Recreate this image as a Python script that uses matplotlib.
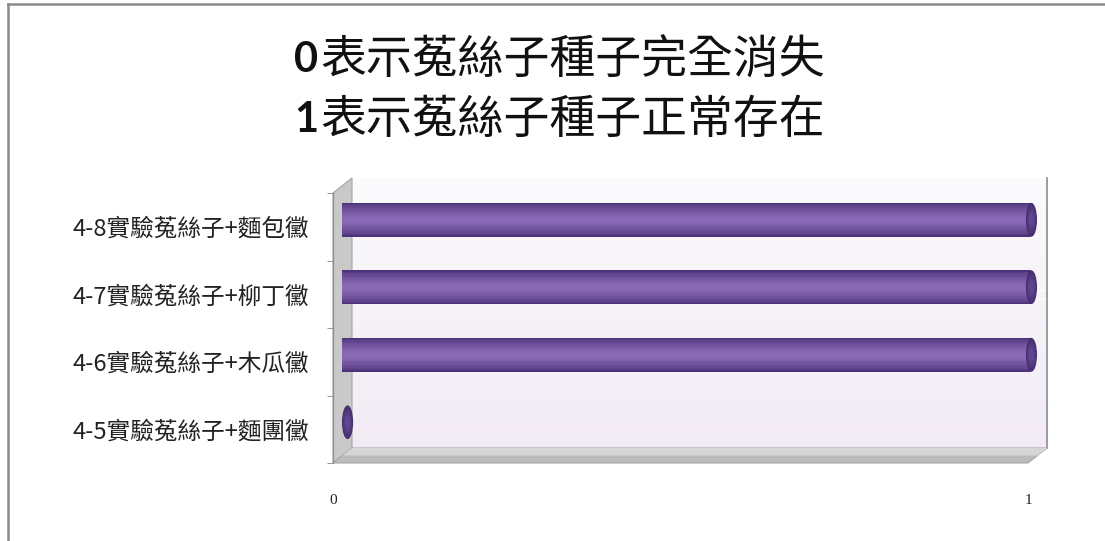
import numpy as np
import matplotlib
matplotlib.use("Agg")
import matplotlib.pyplot as plt
from matplotlib import transforms as mtransforms
from matplotlib.colors import to_rgb
from matplotlib.patches import Polygon, Rectangle, Ellipse
from matplotlib.lines import Line2D

# seed survival after mould treatment: 0 = seeds gone, 1 = seeds present
categories = ["4-5實驗菟絲子+麵團黴", "4-6實驗菟絲子+木瓜黴",
              "4-7實驗菟絲子+柳丁黴", "4-8實驗菟絲子+麵包黴"]
values = [0, 1, 1, 1]
x_ticks = [0, 1]
title_digits = ["0", "1"]
title_lines = ["表示菟絲子種子完全消失", "表示菟絲子種子正常存在"]

CJK = ["Noto Sans CJK TC", "DejaVu Sans"]
W, H, DPI = 1105, 541, 100


def fx(px):
    return px / W


def fy(py):
    return 1 - py / H


def blend(c1, c2, t):
    a, b = np.array(to_rgb(c1)), np.array(to_rgb(c2))
    return tuple(a + (b - a) * t)


fig = plt.figure(figsize=(W / DPI, H / DPI), dpi=DPI)
fig.patch.set_facecolor("white")

# chart frame (left and top edges)
fig.add_artist(Line2D([fx(8), fx(8)], [fy(4), fy(541)], color="#8a8a8a", lw=1.8))
fig.add_artist(Line2D([fx(8), fx(1105)], [fy(4), fy(4)], color="#8a8a8a", lw=1.8))

# title: bold digit followed by the CJK text
for i, (d, txt) in enumerate(zip(title_digits, title_lines)):
    yy = fy(60 + 60 * i)
    fig.text(fx(318), yy, d, ha="right", va="center", fontsize=30,
             fontweight="bold", family=["Lato", "DejaVu Sans"], color="#111")
    fig.text(fx(320), yy, txt, ha="left", va="center", fontsize=33,
             family=CJK, color="#111")

# front plane of the 3-D box
ax = fig.add_axes([fx(333), fy(463), fx(1028) - fx(333), (463 - 193) / H])
ax.patch.set_visible(False)
n = len(categories)
ypos = np.arange(n)

depth = np.array([19.0, 15.0])          # back wall offset in pixels
back = ax.transData + mtransforms.ScaledTranslation(depth[0] / DPI, depth[1] / DPI, fig.dpi_scale_trans)
mid = ax.transData + mtransforms.ScaledTranslation(9 / DPI, 7 / DPI, fig.dpi_scale_trans)
ident = mtransforms.IdentityTransform()

# back wall with a soft vertical gradient
strips = 60
edges = np.linspace(-0.5, n - 0.5, strips + 1)
for k in range(strips):
    t = k / (strips - 1)
    ax.add_patch(Rectangle((0, edges[k]), 1, edges[k + 1] - edges[k],
                           transform=back, color=blend("#f1eaf4", "#fbfafc", t),
                           lw=0, zorder=0.5, clip_on=False))
ax.add_line(Line2D([1, 1], [-0.5, n - 0.5], transform=back, color="#8c8c8c",
                   lw=1.2, zorder=0.6, clip_on=False))

# side wall and floor
corners = ax.transAxes.transform([(0, 0), (0, 1), (1, 0)])
bl, tl, br = corners
side = [bl, tl, tl + depth, bl + depth]
floor = [bl, br, br + depth, bl + depth]
ax.add_patch(Polygon(side, closed=True, transform=ident, facecolor="#c9c9c9",
                     edgecolor="#a5a5a5", lw=0.8, zorder=0.7, clip_on=False))
ax.add_patch(Polygon(floor, closed=True, transform=ident, facecolor="#bcbcbc",
                     edgecolor="#a8a8a8", lw=0.8, zorder=0.8, clip_on=False))
inner = [bl + depth * 0.5, br + depth * 0.5, br + depth, bl + depth]
ax.add_patch(Polygon(inner, closed=True, transform=ident, facecolor="#d6d6d6",
                     lw=0, zorder=0.85, clip_on=False))

# bars: layered rectangles give the cylinder shading
bar_h = 0.5
cap_w = 0.008
layers = 12
for y, v in zip(ypos, values):
    if v > 0:
        for k in range(layers):
            t = k / (layers - 1)
            ax.barh(y, v - cap_w, height=bar_h * (1 - 0.85 * t), left=0,
                    color=blend("#4c3379", "#8a6ab6", t ** 0.7), lw=0,
                    transform=mid, zorder=2, clip_on=False)
    for k in range(4):
        t = k / 3
        ax.add_patch(Ellipse((v - cap_w if v > 0 else cap_w, y), 2 * cap_w * (1 - 0.5 * t),
                             bar_h * (1 - 0.6 * t), transform=mid,
                             color=blend("#46306f", "#5e4590", t), lw=0,
                             zorder=3, clip_on=False))

ax.set_xlim(0, 1)
ax.set_ylim(-0.5, n - 0.5)

ax.set_yticks(ypos, categories, fontsize=17, family=CJK, color="#222")
ax.set_yticks(np.arange(-0.5, n), minor=True)
ax.tick_params(axis="y", which="major", length=0, pad=17)
ax.tick_params(axis="y", which="minor", length=4, color="#888888", direction="out")

ax.set_xticks(x_ticks, [str(t) for t in x_ticks], fontsize=11,
              family="Liberation Serif", color="#222")
ax.tick_params(axis="x", length=0, pad=22)

for s in ["top", "right", "bottom"]:
    ax.spines[s].set_visible(False)
ax.spines["left"].set_color("#8c8c8c")
ax.spines["left"].set_zorder(1)

fig.savefig("out.png", dpi=DPI, facecolor="white")
